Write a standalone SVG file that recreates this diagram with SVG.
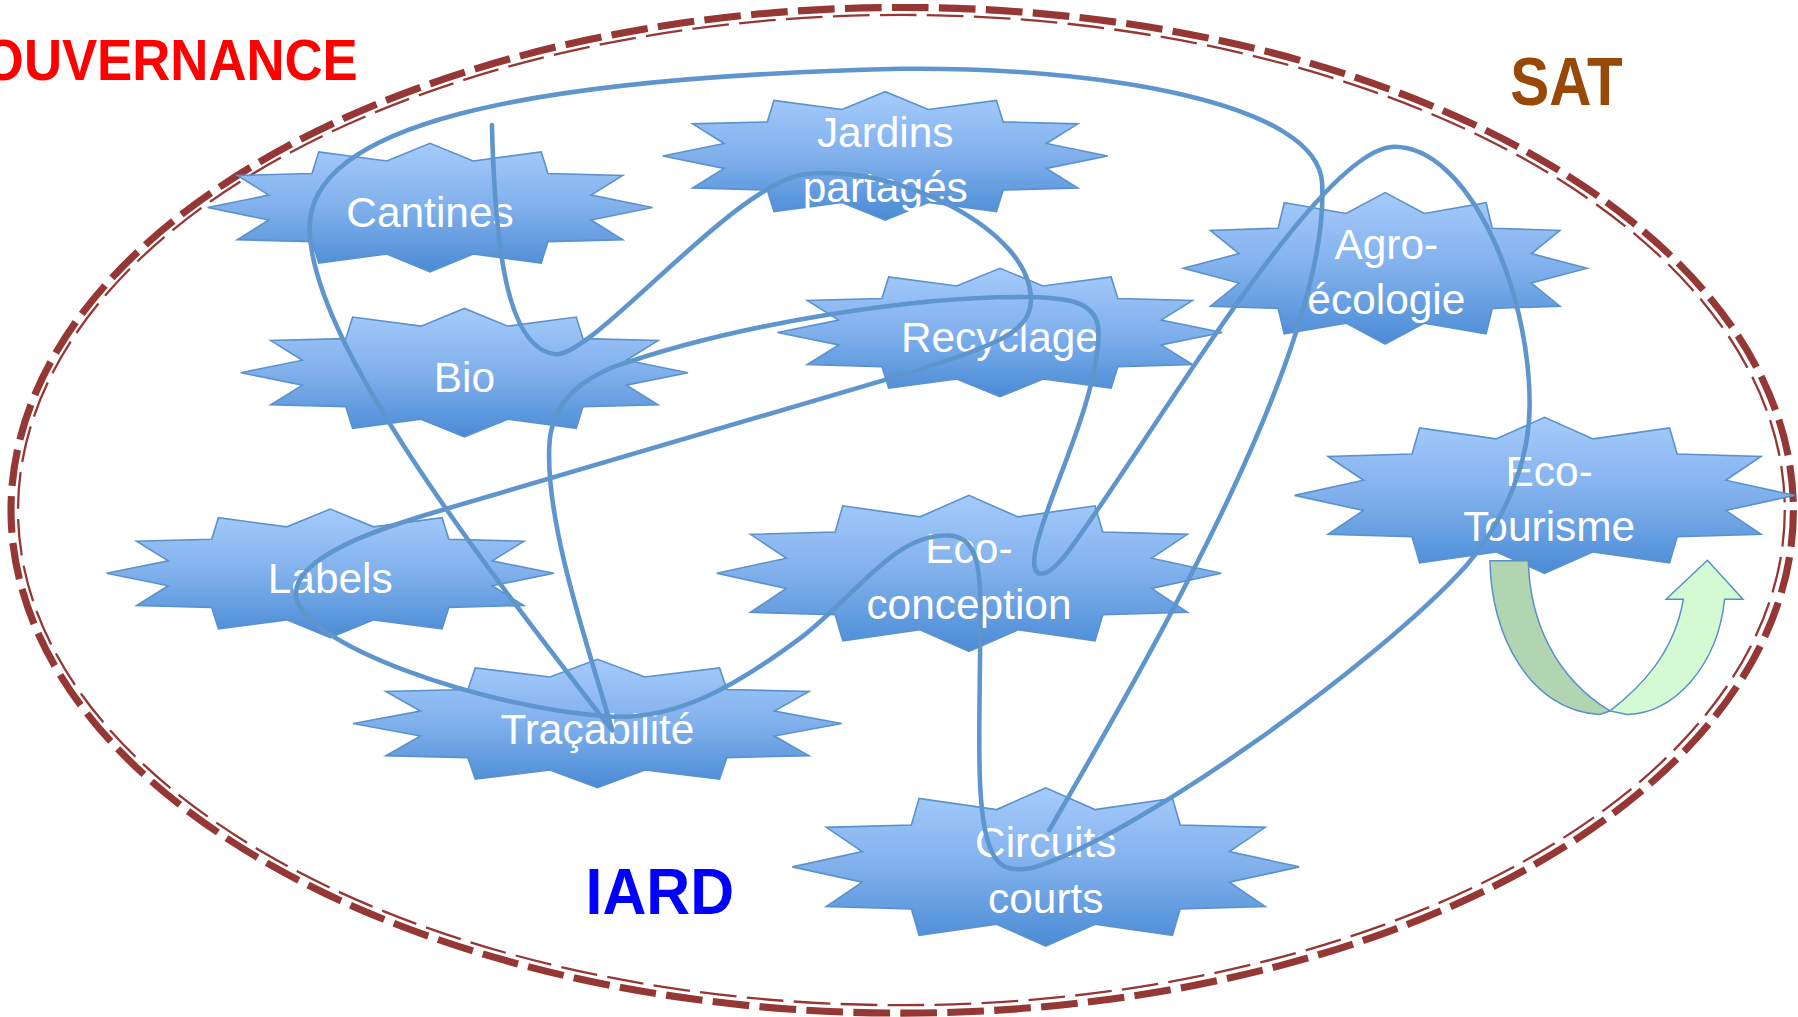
<svg xmlns="http://www.w3.org/2000/svg" xmlns:xlink="http://www.w3.org/1999/xlink" width="1798" height="1017" viewBox="0 0 1798 1017">
<defs>
<linearGradient id="starFill" x1="0" y1="0" x2="0" y2="1">
<stop offset="0" stop-color="#a6cbfb"/>
<stop offset="0.5" stop-color="#80b0ec"/>
<stop offset="1" stop-color="#4a8bd5"/>
</linearGradient>
<path id="star" vector-effect="non-scaling-stroke" d="M1,0 L.7244,.1941 L.866,.5 L.5303,.5303 L.5,.866 L.1941,.7244 L0,1 L-.1941,.7244 L-.5,.866 L-.5303,.5303 L-.866,.5 L-.7244,.1941 L-1,0 L-.7244,-.1941 L-.866,-.5 L-.5303,-.5303 L-.5,-.866 L-.1941,-.7244 L0,-1 L.1941,-.7244 L.5,-.866 L.5303,-.5303 L.866,-.5 L.7244,-.1941 Z"/>
<style>
.star{fill:url(#starFill);stroke:#5a92cc;stroke-width:1.6;}
.lbl{font-family:"Liberation Sans",Arial,sans-serif;font-size:37px;fill:#ffffff;text-anchor:middle;}
.conn{fill:none;stroke:#5e95cd;stroke-width:4;stroke-linecap:round;stroke-linejoin:round;}
.title{font-family:"Liberation Sans",Arial,sans-serif;font-weight:bold;}
.outerE{fill:none;stroke:#953735;stroke-width:6.2;stroke-dasharray:32 9;}
.innerE{fill:none;stroke:#953735;stroke-width:2;stroke-dasharray:32 9;}
.arrowStroke{stroke:#5a8fc8;stroke-width:1.3;}
</style>
</defs>
<g transform="scale(1.14668)">
<g id="boundary">
<ellipse class="outerE" cx="786.8" cy="445" rx="777.2" ry="438.5"/>
<ellipse class="innerE" cx="786.1" cy="444.8" rx="770.4" ry="431.8"/>
</g>
<g id="titles">
<text class="title" transform="translate(312,70) scale(0.927,1)" font-size="49.6" fill="#ff0000" text-anchor="end">GOUVERNANCE</text>
<text class="title" transform="translate(1317,91.6) scale(0.857,1)" font-size="59.5" fill="#984807">SAT</text>
<text class="title" transform="translate(510.6,796.8) scale(0.93,1)" font-size="57" fill="#0000ff">IARD</text>
</g>
<g id="node-cantines"><use xlink:href="#star" class="star" transform="translate(375,181) scale(194,56)"/><text class="lbl" x="375" y="198">Cantines</text></g>
<g id="node-jardins"><use xlink:href="#star" class="star" transform="translate(772,136) scale(194,56)"/><text class="lbl" x="772" y="128">Jardins</text><text class="lbl" x="772" y="176">partagés</text></g>
<g id="node-bio"><use xlink:href="#star" class="star" transform="translate(405,325) scale(195,56)"/><text class="lbl" x="405" y="342">Bio</text></g>
<g id="node-recyclage"><use xlink:href="#star" class="star" transform="translate(872,290) scale(194,56)"/><text class="lbl" x="872" y="307">Recyclage</text></g>
<g id="node-agro"><use xlink:href="#star" class="star" transform="translate(1208,234) scale(176,66)"/><text class="lbl" x="1209" y="226">Agro-</text><text class="lbl" x="1209" y="274">écologie</text></g>
<g id="node-ecotourisme"><use xlink:href="#star" class="star" transform="translate(1347,432) scale(218,68)"/><text class="lbl" x="1351" y="424">Eco-</text><text class="lbl" x="1351" y="472">Tourisme</text></g>
<g id="node-labels"><use xlink:href="#star" class="star" transform="translate(288,500) scale(195,56)"/><text class="lbl" x="288" y="517">Labels</text></g>
<g id="node-tracabilite"><use xlink:href="#star" class="star" transform="translate(521,631) scale(213,56)"/><text class="lbl" x="521" y="649">Traçabilité</text></g>
<g id="node-ecoconception"><use xlink:href="#star" class="star" transform="translate(845,500) scale(220,68)"/><text class="lbl" x="845" y="491">Eco-</text><text class="lbl" x="845" y="540">conception</text></g>
<g id="node-circuits"><use xlink:href="#star" class="star" transform="translate(912,756) scale(221,69)"/><text class="lbl" x="912" y="747">Circuits</text><text class="lbl" x="912" y="796">courts</text></g>
<g id="connectors">
<path class="conn" d="M533,636 C420,490 272,300 270,200 C268,110 450,68 785,60 C960,58 1150,90 1153,160 C1160,300 1010,560 915,724"/>
<path class="conn" d="M429,109 C432,230 445,305 485,309 C520,309 640,160 702,152 C780,142 900,200 899,262 C898,290 870,300 800,323 C650,368 500,412 385,445 C330,461 258,485 258,518 C258,560 420,618 535,625 C590,627 640,600 700,555 C750,515 780,467 825,467 C850,466 855,490 855,530 C855,620 850,700 862,735 C868,755 878,761 900,757 C990,730 1200,580 1279,493 C1315,450 1334,400 1334,353 C1334,250 1280,128 1216,128 C1150,128 1000,390 930,483 C910,508 898,505 903,480 C910,440 958,350 958,290 C958,262 930,259 890,259 C800,259 650,280 535,320 C500,335 480,355 479,390 C476,460 515,570 534,637"/>
</g>
<g id="uturn-arrow">
<path class="arrowStroke" fill="#b1d5b1" d="M1299.4,489 L1332.8,489 C1334,540 1355,590 1404,620 L1395,623 C1335,620 1300,555 1299.4,489 Z"/>
<path class="arrowStroke" fill="#d4fad4" d="M1404,620 C1430,600 1460,570 1468,522.6 L1453,522.6 L1489,488.6 L1520,522.6 L1504,522.6 C1498,580 1460,623 1419,623 Z"/>
</g>
</g>
</svg>
